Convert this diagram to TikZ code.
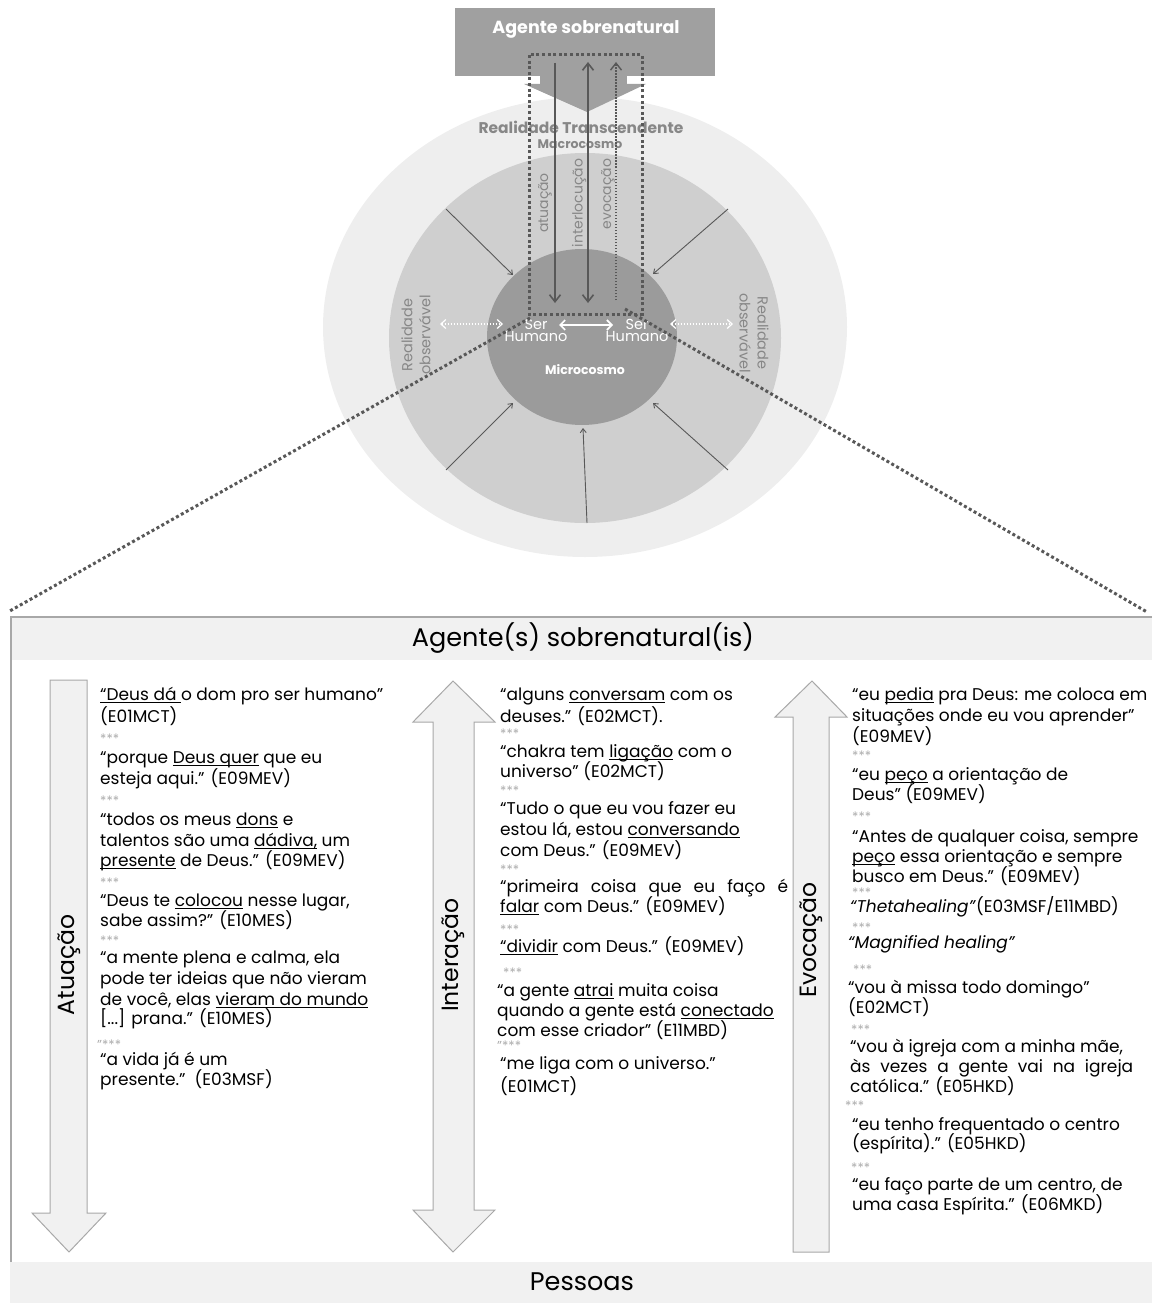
\documentclass[tikz,border=0pt]{standalone}
\usepackage{fontspec}
\setmainfont{Poppins}
\usetikzlibrary{arrows.meta}
\definecolor{outerc}{RGB}{238,238,238}
\definecolor{midc}{RGB}{207,207,207}
\definecolor{innerc}{RGB}{155,155,155}
\definecolor{boxc}{RGB}{160,160,160}
\definecolor{labelc}{RGB}{135,135,135}
\definecolor{linec}{RGB}{88,88,88}
\definecolor{bandc}{RGB}{241,241,241}
\definecolor{framec}{RGB}{168,168,168}
\definecolor{starc}{RGB}{172,172,172}
% underline drawn just below the baseline, independent of descenders
\newcommand\undl[1]{\begingroup\setbox0\hbox{#1}\rlap{\rule[-2.6pt]{\wd0}{0.9pt}}\box0\endgroup}
\begin{document}
\begin{tikzpicture}[x=1pt,y=-1pt,
  quote/.style={anchor=base west, inner sep=0pt, text=black, font=\fontsize{17}{20}\selectfont},
  stars/.style={anchor=base west, inner sep=0pt, text=starc, font=\fontsize{13}{14}\selectfont},
  biglabel/.style={inner sep=0pt, text=black, font=\fontsize{25.5}{28}\selectfont},
  sidelabel/.style={inner sep=0pt, text=black, rotate=90, font=\fontsize{23.5}{26}\selectfont},
  greylabel/.style={inner sep=0pt, text=labelc, font=\fontsize{14}{16}\selectfont},
  whitelabel/.style={inner sep=0pt, text=white, align=center, font=\fontsize{14.5}{16}\selectfont},
  radial/.style={draw=linec, line width=0.9pt, -{Straight Barb[length=4pt,width=6pt]}},
  flow/.style={draw=linec, line width=1.6pt},
  heavydots/.style={draw=linec, line width=3pt, dash pattern=on 3pt off 2.6pt},
  blockarrow/.style={fill=bandc, draw=framec, line width=1pt, line join=miter}
]
\useasboundingbox (0,0) rectangle (1152,1303);

% ---------- concentric realities ----------
\fill[outerc] (585,327) ellipse [x radius=262pt, y radius=230pt];
\fill[midc] (585,338) ellipse [x radius=196pt, y radius=185pt];

% arrows from the observable ring towards the microcosm
\coordinate (r1) at (446,209); \coordinate (t1) at (513,275);
\coordinate (r2) at (728,209); \coordinate (t2) at (653,274);
\coordinate (r3) at (446,470); \coordinate (t3) at (513,403);
\coordinate (r4) at (587,523); \coordinate (t4) at (583,428);
\coordinate (r5) at (728,470); \coordinate (t5) at (653,403);
\foreach \i in {1,...,5} \draw[radial] (r\i) -- (t\i);

\fill[innerc] (582,337) ellipse [x radius=95pt, y radius=88pt];

% ---------- supernatural agent ----------
\node[fill=boxc, minimum width=260pt, minimum height=68pt, inner sep=0pt] (agentbox) at (585,42) {};
\node[inner sep=0pt, text=white, font=\fontsize{17.5}{19}\selectfont\bfseries] (agentlabel) at (586,29) {Agente sobrenatural};
\fill[boxc] (540,75) rectangle (627,85);
\fill[boxc] (524,84) -- (646,84) -- (587,112) -- cycle;

\node[greylabel, font=\fontsize{15.5}{17}\selectfont\bfseries] (transc) at (581,127) {Realidade Transcendente};
\node[greylabel, font=\fontsize{12.5}{14}\selectfont\bfseries] (macro) at (580,144) {Macrocosmo};

% ---------- three channels ----------
\coordinate (atTop) at (555,63);  \coordinate (atBot) at (555,303);
\coordinate (inTop) at (588,62);  \coordinate (inBot) at (588,303);
\coordinate (evTop) at (616,62);  \coordinate (evBot) at (616,300);
\draw[flow, -{Straight Barb[length=7pt,width=11pt]}] (atTop) -- (atBot);
\draw[flow, {Straight Barb[length=7pt,width=11pt]}-{Straight Barb[length=7pt,width=11pt]}] (inBot) -- (inTop);
\draw[draw=linec, line width=1.4pt, dash pattern=on 1.5pt off 1.5pt, -{Straight Barb[length=7pt,width=11pt]}] (evBot) -- (evTop);

\node[greylabel, rotate=90] (lbAt) at (545,203) {atuação};
\node[greylabel, rotate=90] (lbIn) at (579,203) {interlocução};
\node[greylabel, rotate=90] (lbEv) at (608,194) {evocação};

\draw[heavydots] (529,55) rectangle (642,314);

% ---------- human beings ----------
\node[whitelabel] (serL) at (536,330) {Ser\\[-4pt]Humano};
\node[whitelabel] (serR) at (637,330) {Ser\\[-4pt]Humano};
\node[whitelabel, font=\fontsize{12.5}{14}\selectfont\bfseries] (micro) at (585,370) {Microcosmo};

\coordinate (hL) at (559,325); \coordinate (hR) at (613,325);
\draw[white, line width=1.6pt, {Straight Barb[length=5pt,width=10pt]}-{Straight Barb[length=5pt,width=10pt]}] (hL) -- (hR);
\coordinate (oL1) at (440,324); \coordinate (oL2) at (503,324);
\coordinate (oR1) at (670,324); \coordinate (oR2) at (733,324);
\draw[white, line width=1.2pt, dash pattern=on 1.5pt off 1.5pt, {Straight Barb[length=5pt,width=9pt]}-{Straight Barb[length=5pt,width=9pt]}] (oL1) -- (oL2);
\draw[white, line width=1.2pt, dash pattern=on 1.5pt off 1.5pt, {Straight Barb[length=5pt,width=9pt]}-{Straight Barb[length=5pt,width=9pt]}] (oR1) -- (oR2);

\node[greylabel, rotate=90, align=center, font=\fontsize{14.5}{16}\selectfont] (obsL) at (416,335) {Realidade\\[2pt]observável};
\node[greylabel, rotate=-90, align=center, font=\fontsize{14.5}{16}\selectfont] (obsR) at (754,333) {Realidade\\[2pt]observável};

% ---------- zoom lines to the detail panel ----------
\coordinate (zL0) at (530,318); \coordinate (zL1) at (8,612);
\coordinate (zR0) at (625,309); \coordinate (zR1) at (1147,612);
\draw[heavydots] (zL0) -- (zL1);
\draw[heavydots] (zR0) -- (zR1);

% ---------- detail panel ----------
\fill[bandc] (12,618) rectangle (1152,660);
\fill[bandc] (10,1262) rectangle (1152,1303);
\draw[framec, line width=1.6pt] (1152,617) -- (11,617) -- (11,1262);
\node[biglabel] (topband) at (583,638) {Agente(s) sobrenatural(is)};
\node[biglabel] (botband) at (582,1282) {Pessoas};

\draw[blockarrow] (50,680) -- (87,680) -- (87,1213) -- (106,1213) -- (69,1252) -- (32,1213) -- (50,1213) -- cycle;
\draw[blockarrow] (453,681) -- (495,722) -- (474,722) -- (474,1210) -- (495,1210) -- (453,1252) -- (413,1210) -- (433,1210) -- (433,722) -- (413,722) -- cycle;
\draw[blockarrow] (812,681) -- (847,717) -- (829,717) -- (829,1252) -- (793,1252) -- (793,717) -- (775,717) -- cycle;
\node[sidelabel] (atuacao) at (69,965) {Atuação};
\node[sidelabel] (interacao) at (453,955) {Interação};
\node[sidelabel] (evocacao) at (811,940) {Evocação};

% column: acting
\node[quote] (a1) at (100,700) {\undl{“Deus dá }o dom pro ser humano”};
\node[quote] (a2) at (100,722) {(E01MCT)};
\node[stars] (as1) at (100,743) {***};
\node[quote] (a3) at (100,763) {“porque \undl{Deus quer} que eu};
\node[quote] (a4) at (100,784) {esteja aqui.” (E09MEV)};
\node[stars] (as2) at (100,805) {***};
\node[quote] (a5) at (100,825) {“todos os meus \undl{dons} e};
\node[quote] (a6) at (100,846) {talentos são uma \undl{dádiva,} um};
\node[quote] (a7) at (100,866) {\undl{presente} de Deus.” (E09MEV)};
\node[stars] (as3) at (100,887) {***};
\node[quote] (a8) at (100,906) {“Deus te \undl{colocou} nesse lugar,};
\node[quote] (a9) at (100,926) {sabe assim?” (E10MES)};
\node[stars] (as4) at (100,945) {***};
\node[quote] (a10) at (100,963) {“a mente plena e calma, ela};
\node[quote] (a11) at (100,984) {pode ter ideias que não vieram};
\node[quote] (a12) at (100,1005) {de você, elas \undl{vieram do mundo}};
\node[quote] (a13) at (100,1024) {[...] prana.” (E10MES)};
\node[stars] (as5) at (97,1049) {"***};
\node[quote] (a14) at (100,1065) {“a vida já é um};
\node[quote] (a15) at (100,1085) {presente.”\ \ (E03MSF)};

% column: interaction
\node[quote] (b1) at (500,700) {“alguns \undl{conversam} com os};
\node[quote] (b2) at (500,722) {deuses.” (E02MCT).};
\node[stars] (bs1) at (500,738) {***};
\node[quote] (b3) at (500,757) {“chakra tem \undl{ligação} com o};
\node[quote] (b4) at (500,777) {universo” (E02MCT)};
\node[stars] (bs2) at (500,795) {***};
\node[quote] (b5) at (500,814) {“Tudo o que eu vou fazer eu};
\node[quote] (b6) at (500,835) {estou lá, estou \undl{conversando}};
\node[quote] (b7) at (500,856) {com Deus.” (E09MEV)};
\node[stars] (bs3) at (500,874) {***};
\node[quote] (b8) at (500,892) {\makebox[288pt][s]{“primeira coisa que eu faço é}};
\node[quote] (b9) at (500,912) {\undl{falar} com Deus.” (E09MEV)};
\node[stars] (bs4) at (500,934) {***};
\node[quote] (b10) at (500,952) {\undl{“dividir} com Deus.” (E09MEV)};
\node[stars] (bs5) at (503,977) {***};
\node[quote] (b11) at (497,996) {“a gente \undl{atrai} muita coisa};
\node[quote] (b12) at (497,1016) {quando a gente está \undl{conectado}};
\node[quote] (b13) at (497,1036) {com esse criador” (E11MBD)};
\node[stars] (bs6) at (497,1050) {"***};
\node[quote] (b14) at (500,1069) {“me liga com o universo.”};
\node[quote] (b15) at (500,1092) {(E01MCT)};

% column: evocation
\node[quote] (c1) at (852,700) {“eu \undl{pedia} pra Deus: me coloca em};
\node[quote] (c2) at (852,721) {situações onde eu vou aprender”};
\node[quote] (c3) at (852,742) {(E09MEV)};
\node[stars] (cs1) at (852,760) {***};
\node[quote] (c4) at (852,780) {“eu \undl{peço} a orientação de};
\node[quote] (c5) at (852,800) {Deus” (E09MEV)};
\node[stars] (cs2) at (852,821) {***};
\node[quote] (c6) at (852,842) {“Antes de qualquer coisa, sempre};
\node[quote] (c7) at (852,862) {\undl{peço} essa orientação e sempre};
\node[quote] (c8) at (852,882) {busco em Deus.” (E09MEV)};
\node[stars] (cs3) at (852,897) {***};
\node[quote] (c9) at (850,912) {\textit{“Thetahealing”}(E03MSF/E11MBD)};
\node[stars] (cs4) at (852,932) {***};
\node[quote] (c10) at (848,948) {\textit{“Magnified healing”}};
\node[stars] (cs5) at (853,974) {***};
\node[quote] (c11) at (848,993) {“vou à missa todo domingo”};
\node[quote] (c12) at (848,1013) {(E02MCT)};
\node[stars] (cs6) at (851,1034) {***};
\node[quote] (c13) at (850,1052) {“vou à igreja com a minha mãe,};
\node[quote] (c14) at (850,1072) {\makebox[283pt][s]{às vezes a gente vai na igreja}};
\node[quote] (c15) at (850,1092) {católica.” (E05HKD)};
\node[stars] (cs7) at (845,1110) {***};
\node[quote] (c16) at (852,1130) {“eu tenho frequentado o centro};
\node[quote] (c17) at (852,1149) {(espírita).” (E05HKD)};
\node[stars] (cs8) at (851,1172) {***};
\node[quote] (c18) at (852,1190) {“eu faço parte de um centro, de};
\node[quote] (c19) at (852,1210) {uma casa Espírita.” (E06MKD)};
\end{tikzpicture}
\end{document}
